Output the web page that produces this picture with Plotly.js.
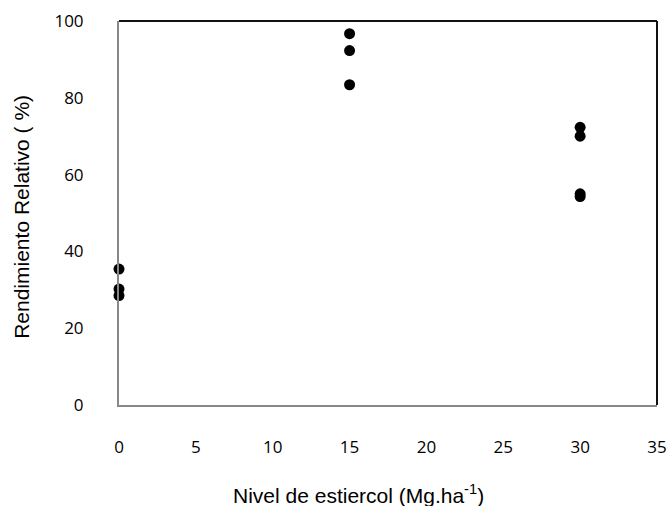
<!DOCTYPE html>
<html>
<head>
<meta charset="utf-8">
<script src="https://cdn.plot.ly/plotly-3.0.1.min.js"></script>
<style>html,body{margin:0;padding:0;background:#fff;}#chart{width:669px;height:506px;}</style>
</head>
<body>
<div id="chart"></div>
<script>
var nivel = [0, 0, 0, 15, 15, 15, 30, 30, 30, 30];
var rendimiento = [35.4, 30.2, 28.5, 96.7, 92.3, 83.4, 72.3, 70.0, 55.0, 54.3];
var xTicks = [0, 5, 10, 15, 20, 25, 30, 35];
var yTicks = [0, 20, 40, 60, 80, 100];

var trace = {
  x: nivel, y: rendimiento, type: 'scatter', mode: 'markers',
  marker: {color: '#000', size: 11},
  cliponaxis: false, hoverinfo: 'none'
};

var tickFont = {family: 'Open Sans, Lato, sans-serif', size: 17, color: '#000'};
var titleFont = {family: 'Liberation Sans, Arial, sans-serif', size: 21, color: '#000'};
var layout = {
  width: 669, height: 506,
  margin: {l: 119, r: 12, t: 21, b: 101},
  paper_bgcolor: '#fff', plot_bgcolor: '#fff',
  showlegend: false,
  xaxis: {
    range: [0, 35], tickvals: xTicks, ticktext: xTicks.map(String),
    showgrid: false, zeroline: false, showline: true, linecolor: '#888', linewidth: 2,
    ticks: '', tickfont: tickFont, ticklabelstandoff: 26
  },
  yaxis: {
    range: [0, 100], tickvals: yTicks, ticktext: yTicks.map(String),
    showgrid: false, zeroline: false, showline: true, linecolor: '#888', linewidth: 2,
    ticks: '', tickfont: tickFont, ticklabelstandoff: 30
  },
  shapes: [
    {type: 'line', xref: 'paper', yref: 'paper', x0: 0, x1: 1, y0: 1, y1: 1, line: {color: '#111', width: 2}},
    {type: 'line', xref: 'paper', yref: 'paper', x0: 1, x1: 1, y0: 0, y1: 1, line: {color: '#111', width: 2}}
  ],
  annotations: [
    {text: 'Nivel de estiercol (Mg.ha<sup>-1</sup>)', xref: 'paper', yref: 'paper',
     x: 0.445, y: 0, yshift: -89, xanchor: 'center', yanchor: 'middle', showarrow: false,
     font: titleFont},
    {text: 'Rendimiento Relativo ( %)', xref: 'paper', yref: 'paper',
     x: 0, xshift: -97, y: 0.49, textangle: -90, xanchor: 'center', yanchor: 'middle', showarrow: false,
     font: titleFont}
  ]
};

Plotly.newPlot('chart', [trace], layout, {displayModeBar: false, staticPlot: true});
</script>
</body>
</html>
